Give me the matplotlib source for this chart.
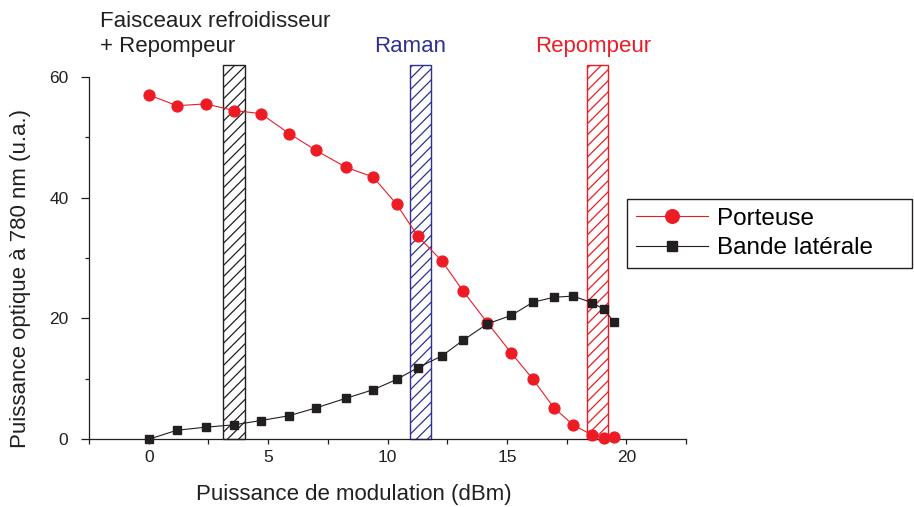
import matplotlib
matplotlib.use("Agg")
import matplotlib.pyplot as plt
from matplotlib.ticker import MultipleLocator, FuncFormatter

plt.rcParams['font.family'] = ['Liberation Sans', 'DejaVu Sans']
plt.rcParams['hatch.linewidth'] = 0.9

# ------ données ------
puissance_mod = [0, 1.18, 2.38, 3.58, 4.69, 5.88, 7.01, 8.27, 9.40, 10.38, 11.27,
                 12.28, 13.17, 14.18, 15.18, 16.10, 16.97, 17.77, 18.57, 19.07, 19.48]
porteuse = [57.0, 55.2, 55.5, 54.4, 53.9, 50.6, 47.8, 45.0, 43.4, 38.9, 33.6,
            29.5, 24.5, 19.3, 14.3, 9.9, 5.2, 2.4, 0.7, 0.2, 0.3]
bande_laterale = [0.0, 1.5, 2.0, 2.4, 3.1, 3.9, 5.2, 6.8, 8.2, 9.9, 11.85,
                  13.8, 16.4, 19.1, 20.5, 22.7, 23.5, 23.7, 22.6, 21.5, 19.4]

# zones hachurées (dBm)
zones_debut = [3.12, 10.94, 18.35]
zones_fin = [4.03, 11.84, 19.25]
zones_haut = 62

ROUGE = '#ed1c24'
NOIR = '#231f20'
BLEU = '#2e3192'
zones_couleur = [NOIR, BLEU, ROUGE]

W, H = 914, 507


def fpx(x, y):
  # pixels -> coordonnées figure
  return x / W, 1 - y / H


fig = plt.figure(figsize=(W / 100, H / 100), dpi=100)
ax = fig.add_axes([89 / W, (H - 439.3) / H, (686 - 89) / W, (439.3 - 76.7) / H])

# zones
for x0, x1, c in zip(zones_debut, zones_fin, zones_couleur):
  ax.bar(x0, zones_haut, width=x1 - x0, bottom=0, align='edge',
         facecolor='none', edgecolor=c, hatch='///', linewidth=1.0,
         clip_on=False, zorder=1)

ax.plot(puissance_mod, porteuse, color=ROUGE, lw=0.8, marker='o', ms=7.8,
        mec=ROUGE, mfc=ROUGE, clip_on=False, zorder=3, label='Porteuse')
ax.plot(puissance_mod, bande_laterale, color=NOIR, lw=0.8, marker='s', ms=5.5,
        mec=NOIR, mfc=NOIR, clip_on=False, zorder=3, label='Bande latérale')

ax.set_xlim(-2.5, 22.5)
ax.set_ylim(0, 60)

for s in ['top', 'right']:
  ax.spines[s].set_visible(False)
for s in ['left', 'bottom']:
  ax.spines[s].set_linewidth(0.9)
  ax.spines[s].set_color(NOIR)

ax.xaxis.set_major_locator(MultipleLocator(5))
ax.xaxis.set_minor_locator(MultipleLocator(2.5))
ax.yaxis.set_major_locator(MultipleLocator(20))
ax.yaxis.set_minor_locator(MultipleLocator(10))
ax.xaxis.set_major_formatter(FuncFormatter(lambda v, p: '%d' % v))
ax.tick_params(axis='x', which='both', direction='out', length=3.8, width=0.9,
               color=NOIR, labelsize=12.5, labelcolor=NOIR, pad=4)
ax.tick_params(axis='y', which='major', direction='out', length=5.8, width=0.9,
               color=NOIR, labelsize=12.5, labelcolor=NOIR, pad=9)
ax.tick_params(axis='y', which='minor', direction='out', length=2.9, width=0.9,
               color=NOIR)

ax.set_xlabel('Puissance de modulation (dBm)', fontsize=16, color=NOIR)
ax.xaxis.set_label_coords((354 - 89) / 597, (439.3 - 484) / 362.6)
ax.set_ylabel('Puissance optique à 780 nm (u.a.)', fontsize=16, color=NOIR)
ax.yaxis.set_label_coords((31 - 89) / 597, (439.3 - 279) / 362.6)

# annotations
fig.text(*fpx(100, 27), 'Faisceaux refroidisseur', fontsize=16, color=NOIR,
         ha='left', va='baseline')
fig.text(*fpx(100, 52), '+ Repompeur', fontsize=16, color=NOIR,
         ha='left', va='baseline')
fig.text(*fpx(410, 52), 'Raman', fontsize=16, color=BLEU, ha='center', va='baseline')
fig.text(*fpx(593, 52), 'Repompeur', fontsize=16, color=ROUGE, ha='center', va='baseline')

x0, y0 = fpx(627, 272)
leg = fig.legend(loc='upper left', bbox_to_anchor=(x0, y0, (912 - 627) / W, (272 - 199) / H),
                 mode='expand', borderaxespad=0, fontsize=17.5, handlelength=3.0,
                 handletextpad=0.35, labelspacing=0.32, borderpad=0.35,
                 fancybox=False, framealpha=1, edgecolor=NOIR, markerscale=1.25)
leg.get_frame().set_linewidth(1.0)

fig.savefig('out.png', dpi=100)
